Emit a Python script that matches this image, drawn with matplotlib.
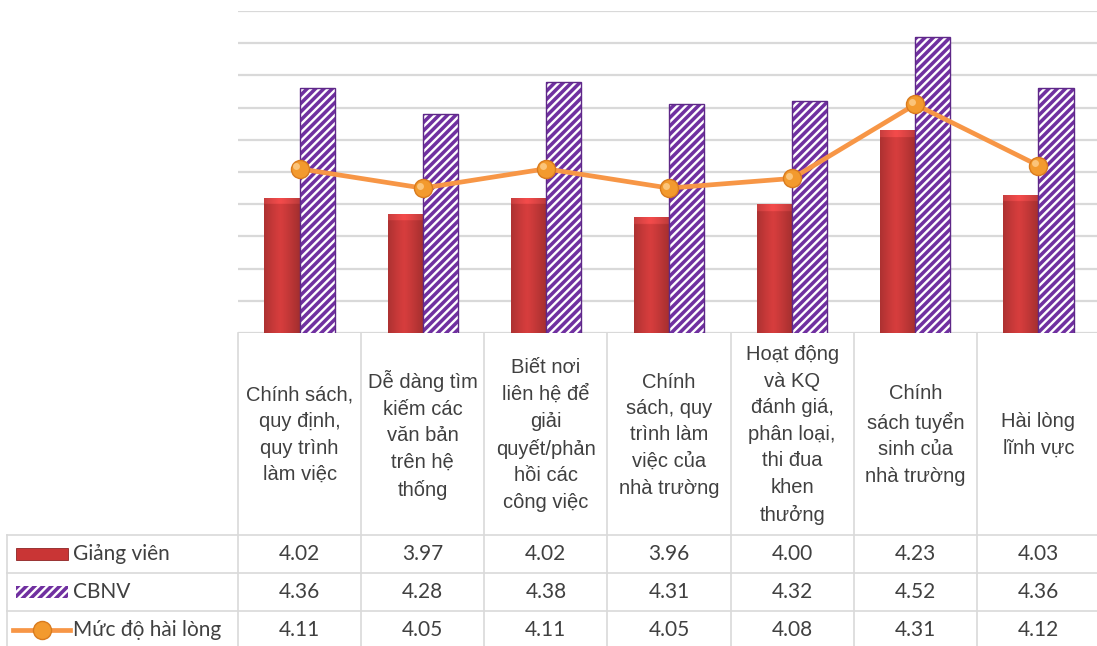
import numpy as np
import matplotlib.pyplot as plt
from matplotlib.patches import Rectangle
from matplotlib.lines import Line2D

plt.rcParams['hatch.linewidth'] = 1.7

categories = [
    "Chính sách,\nquy định,\nquy trình\nlàm việc",
    "Dễ dàng tìm\nkiếm các\nvăn bản\ntrên hệ\nthống",
    "Biết nơi\nliên hệ để\ngiải\nquyết/phản\nhồi các\ncông việc",
    "Chính\nsách, quy\ntrình làm\nviệc của\nnhà trường",
    "Hoạt động\nvà KQ\nđánh giá,\nphân loại,\nthi đua\nkhen\nthưởng",
    "Chính\nsách tuyển\nsinh của\nnhà trường",
    "Hài lòng\nlĩnh vực",
]
giang_vien = [4.02, 3.97, 4.02, 3.96, 4.00, 4.23, 4.03]
cbnv = [4.36, 4.28, 4.38, 4.31, 4.32, 4.52, 4.36]
hai_long = [4.11, 4.05, 4.11, 4.05, 4.08, 4.31, 4.12]
series_names = ["Giảng viên", "CBNV", "Mức độ hài lòng"]

W, H = 1097, 646
x0, x1 = 238, 1100
y_top, y_bot = 11, 333
text_color = '#404040'
grid_color = '#D9D9D9'
red = '#C93535'
purple = '#7030A0'
orange = '#F79646'

fig = plt.figure(figsize=(W / 100, H / 100), dpi=100)

# main chart area
ax = fig.add_axes([x0 / W, 1 - y_bot / H, (x1 - x0) / W, (y_bot - y_top) / H])
n = len(categories)
x = np.arange(n)
bw = 0.285
ymin, ymax = 3.6, 4.6
px_per_unit = (y_bot - y_top) / (ymax - ymin)

ax.set_xlim(-0.5, n - 0.5)
ax.set_ylim(ymin, ymax)
ax.set_yticks(np.arange(ymin, ymax + 0.01, 0.1))
ax.yaxis.grid(True, color=grid_color, linewidth=1.6)
ax.set_axisbelow(True)
ax.tick_params(left=False, bottom=False, labelleft=False, labelbottom=False)
for s in ax.spines.values():
    s.set_visible(False)

red_bars = ax.bar(x - bw / 2, giang_vien, bw, color=red, edgecolor='#8E2323',
                  linewidth=0.6, zorder=2)

# shaded fill for the red bars: darker sides, lighter bevel on top
base = np.array([0.84, 0.24, 0.24])
cols = np.linspace(0, 1, 64)
shade = 1 - 0.5 * np.abs(cols - 0.45) ** 1.2
for b in red_bars:
    h_px = (b.get_height() - ymin) * px_per_unit
    nrows = 200
    bevel = max(1, int(round(nrows * 7 / h_px)))
    img = np.ones((nrows, 64, 3)) * base[None, None, :] * shade[None, :, None]
    img[:bevel] = np.clip(img[:bevel] * 1.1 + 0.03, 0, 1)
    im = ax.imshow(img, extent=[b.get_x(), b.get_x() + b.get_width(), ymin, b.get_height()],
                   aspect='auto', zorder=2.1, interpolation='bilinear')
    im.set_clip_path(b)

# purple bars with white diagonal stripes, then a purple outline
ax.bar(x + bw / 2, cbnv, bw, facecolor=purple, edgecolor='white', hatch='////',
       linewidth=0, zorder=2)
ax.bar(x + bw / 2, cbnv, bw, facecolor='none', edgecolor='#5E2888',
       linewidth=1.0, zorder=2.2)

ax.plot(x, hai_long, color=orange, linewidth=3.4, zorder=3,
        marker='o', markersize=13, markerfacecolor='#F39A2E', markeredgecolor='#D97B1E',
        markeredgewidth=1.0)
ax.plot(x - 0.025, np.array(hai_long) + 0.008, linestyle='none', marker='o', markersize=5,
        markerfacecolor='#FBC47A', markeredgewidth=0, zorder=4)

# data table drawn in pixel coordinates
tab = fig.add_axes([0, 0, 1, 1], zorder=-1)
tab.set_xlim(0, W)
tab.set_ylim(H, 0)
tab.axis('off')

cw = (x1 - x0) / n
row_y = [535, 573, 611, 649]
for k in range(n + 1):
    tab.plot([x0 + k * cw] * 2, [y_bot, H], color=grid_color, linewidth=1.2)
tab.plot([7, 7], [row_y[0], H], color=grid_color, linewidth=1.2)
for ry in row_y[:3]:
    tab.plot([7, W], [ry, ry], color=grid_color, linewidth=1.2)

for i, lab in enumerate(categories):
    cx = x0 + (i + 0.5) * cw
    tab.text(cx, 435, lab, ha='center', va='center', fontsize=14.5, linespacing=1.5,
             family='Liberation Sans', color=text_color)

rows = [giang_vien, cbnv, hai_long]
for r, vals in enumerate(rows):
    cy = (row_y[r] + row_y[r + 1]) / 2
    tab.text(73, cy, series_names[r], ha='left', va='center', fontsize=15,
             family='Lato', color=text_color)
    for i, v in enumerate(vals):
        cx = x0 + (i + 0.5) * cw
        tab.text(cx, cy, f"{v:.2f}", ha='center', va='center', fontsize=15,
                 family='Lato', color=text_color)

# legend keys in the first column
cy0 = (row_y[0] + row_y[1]) / 2
cy1 = (row_y[1] + row_y[2]) / 2
cy2 = (row_y[2] + row_y[3]) / 2
tab.add_patch(Rectangle((16, cy0 - 6), 52, 12, facecolor=red, edgecolor='#8E2323', linewidth=0.6))
tab.add_patch(Rectangle((16, cy1 - 6), 52, 12, facecolor=purple, edgecolor='white',
                        hatch='////', linewidth=0))
tab.add_line(Line2D([13, 70], [cy2, cy2], color=orange, linewidth=3.4))
tab.add_line(Line2D([42], [cy2], marker='o', markersize=13, markerfacecolor='#F39A2E',
                    markeredgecolor='#D97B1E', markeredgewidth=1.0))

fig.savefig('out.png', dpi=100)
